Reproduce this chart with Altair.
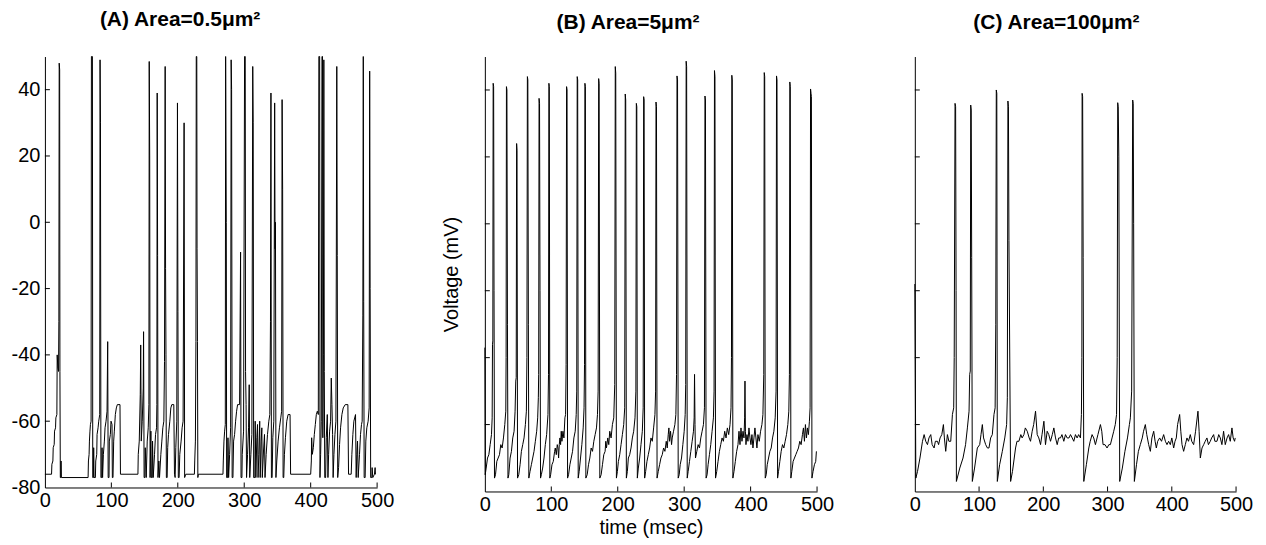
import altair as alt
import pandas as pd

# ---------------- data ----------------
panel_titles = ["(A) Area=0.5\u03bcm\u00b2", "(B) Area=5\u03bcm\u00b2", "(C) Area=100\u03bcm\u00b2"]
x_tick_labels = [0, 100, 200, 300, 400, 500]
y_tick_labels = [-80, -60, -40, -20, 0, 20, 40]
x_inner_ticks = [100, 200, 300, 400, 500]
y_inner_ticks = [-60, -40, -20, 0, 20, 40]

trace_a = [
    (0, -76), (10, -76), (10.5, -73), (12, -72), (12.5, -68), (14, -67), (14.5, -63), (16, -62), (16.5, -59),
    (18, -58), (18.5, -40), (19.5, -44), (20.5, -45), (21, -30), (21.5, 48), (22.2, 46), (22.6, -45), (23.2, -77),
    (24, -77), (24.3, -72), (24.8, -77), (65, -77),
    (65.5, -72), (66.5, -70), (67, -66), (67.8, -63), (68.5, -61), (69.5, -60), (70, 50), (71.5, 50), (72, -77),
    (73, -77), (73.4, -68), (74, -77), (76, -77), (76.5, -72), (78, -70), (78.5, -64), (80, -62), (81, -60),
    (82.5, -58), (83, 49), (83.6, 30), (84.3, -77), (85.5, -77), (86, -68), (86.8, -77), (88, -70), (89.5, -66),
    (90.5, -62), (92, -60), (93.5, -57), (94.5, -36), (95.2, -77), (96.5, -77), (97, -66), (98.5, -64), (99.5, -60),
    (101, -61), (101.5, -77), (102.5, -77), (103.5, -66), (104.5, -63), (106, -58), (107.5, -56), (109, -55),
    (113, -55), (113.7, -76), (140, -76),
    (140.5, -70), (142, -66), (143.5, -52), (144.2, -37), (145, -66), (146.5, -60), (148, -50), (148.5, -33),
    (149.3, -77), (150.5, -77), (151, -68), (152.5, -77), (154, -66), (155.5, -62), (156.5, -55), (157, 48.5),
    (157.7, 20), (158.3, -77), (159.5, -63), (160.2, -77), (161.5, -77), (162, -66), (163, -77), (165, -70),
    (166.5, -64), (168, -62), (168.5, -55), (169, 39), (169.6, -10), (170.2, -77), (171.5, -72), (172.5, -77),
    (174.5, -70), (176, -66), (177.5, -62), (179, -60), (180, -42), (181, 47), (181.6, -14), (182.2, -40),
    (182.8, -77), (184, -77), (184.8, -68), (186, -64), (188, -60), (189.5, -56), (191, -55), (194, -55),
    (195, -76), (196, -77), (197, -68), (198.5, -60), (199.5, 36), (200.2, -27), (200.8, -77), (202, -77),
    (203, -70), (205, -66), (206.5, -62), (208, -60), (209.5, 30), (210.3, -77), (212, -76), (225, -76),
    (225.5, -72), (226.5, -66), (227.3, -36), (227.8, 50), (228.6, 50), (229, -8), (229.6, -36), (230.2, -77),
    (231, -76), (268, -76),
    (268.5, -72), (269.5, -66), (270.5, -63), (271.5, -61), (272, 50), (273, 0), (273.5, -77), (275, -77),
    (275.5, -65), (276.5, -77), (278, -70), (279.5, -62), (280.3, 49), (281, 40), (281.8, -77), (283, -77),
    (284, -66), (285.5, -64), (287, -60), (288.5, -57), (290, -55), (293, -55), (294.5, -9), (295.2, -77),
    (296.5, -77), (297, -70), (299, -63), (300.5, 50), (301.5, 50), (302, -45), (302.8, -55), (303.5, -77),
    (305, -70), (306.5, -62), (307.5, -49), (308.3, -77), (310, -70), (311.5, -64), (312.8, 47), (313.5, 30),
    (314.2, -77), (316, -77), (316.5, -60), (317.5, -77), (319, -65), (320, -61), (320.8, -77), (322, -70),
    (323.3, -60), (324, -77), (325.5, -66), (326.5, -62), (327.2, -77), (329, -69), (330.5, -64), (331.3, -77),
    (333, -70), (335, -64), (337, -60), (338.5, -58), (339.5, -30), (340.2, 39), (340.9, -77), (342, -77),
    (343, -65), (344.5, -60), (345.8, 36), (346.4, -8), (347, 0), (347.7, -77), (349, -72), (351, -66),
    (353, -62), (355, -59), (356.3, -57), (357, 37), (357.8, 10), (358.5, -77), (359.5, -77), (360.5, -70),
    (362, -65), (364, -60), (366, -58), (369, -58), (369.8, -76), (400, -76),
    (401, -72), (401.5, -65), (402.5, -70), (404, -68), (405.5, -64), (407, -61), (408.5, -58), (410, -57),
    (411.5, -58), (412.3, 50), (413.5, 50), (414, -77), (415, -70), (416, -60), (417, 50), (417.8, 50),
    (418.3, -65), (419.2, -40), (419.8, 49), (420.5, -45), (421.2, -77), (422.5, -77), (423.5, -65), (425, -58),
    (426, -77), (427, -70), (428.5, -63), (430, -60), (431, -47), (432, -55), (433, -64), (433.8, -77),
    (435, -70), (436.5, -64), (438, -60), (439.3, 47), (440, -10), (440.7, -77), (442, -74), (443.5, -67),
    (445, -62), (447, -58), (449, -56), (452, -55), (456, -55), (457, -76), (461, -76), (462, -70), (463.5, -64),
    (465, -60), (467.5, -58), (468.5, -77), (469.5, -70), (470.5, -66), (471.5, -77), (473.5, -70), (475, -64),
    (476.5, -61), (477.5, -60), (478.5, -28), (479.2, 50), (479.8, -24), (480.5, -77), (482, -77), (483, -66),
    (484.5, -62), (486.5, -60), (488, -56), (488.8, 45.6), (489.5, -20), (490.3, -77), (492, -77), (492.5, -74),
    (493.5, -77), (496, -76), (497, -74), (497.5, -76), (498, -76),
]

trace_b = [
    (0, -37), (0.5, -75), (2, -73), (4, -70), (6, -69), (8, -66), (10, -63), (11, -58), (11.5, -36), (12, -35),
    (12.5, 42), (13.2, 41), (13.8, -20), (14.5, -76),
    (16, -75), (18, -71), (20, -70), (22, -69), (24, -66), (26, -67), (28, -64), (30, -60), (31.5, -56), (32, -40),
    (32.5, 41), (33.2, 40), (34, -30), (34.8, -76),
    (36, -75), (38, -70), (40, -68), (42, -64), (44, -62), (45.5, -56), (46.5, -47), (47.2, -46), (47.8, 24),
    (48.4, 22), (49.2, -76),
    (51, -75), (53, -72), (55, -68), (57, -66), (59, -64), (61, -60), (62.5, -56), (63.3, -40), (64, 44), (64.7, 43),
    (65.5, -30), (66.2, -76),
    (68, -74), (70, -72), (72, -70), (74, -68), (76, -65), (78, -62), (79.5, -58), (80.5, -52), (81, -45),
    (81.6, 37.5), (82.3, 36), (83, -20), (83.8, -76),
    (85, -75), (87, -73), (89, -70), (91, -66), (93, -63), (95, -57), (95.8, -45), (96.4, 42), (97, 41), (97.8, -76),
    (99, -75), (101, -72), (103, -71), (105, -68), (106, -67), (107.5, -69), (109, -66), (110, -67), (111, -70),
    (112, -66), (113, -64), (114, -66), (115, -62), (116, -65), (117.5, -62), (119, -64), (120.5, -58),
    (121.5, -57), (122.3, -42), (123, 41), (123.7, 40), (124.5, -76),
    (126, -75), (128, -72), (130, -70), (132, -68), (134, -64), (136, -62), (137.5, -57), (138.3, -50), (139, 44),
    (139.7, 43), (140.5, -76),
    (142, -74), (144, -70), (146, -66), (148, -61), (149.3, -55), (150, -42), (150.6, 42), (151.3, 41), (152, -76),
    (154, -75), (156, -72), (158, -70), (160, -67), (162, -68), (164, -65), (166, -63), (168, -61), (169.5, -57),
    (170.5, -50), (171.3, 43.4), (172, 42), (173, -76),
    (175, -75), (177, -72), (179, -69), (181, -68), (182, -65), (183, -67), (185, -64), (186.5, -66), (188, -62),
    (190, -64), (192, -60), (194, -58), (195.5, -48), (196.3, 47), (197, 45), (198, -76),
    (199.5, -74), (201, -71), (203, -69), (205, -66), (207, -63), (209, -60), (210.5, -55), (211.3, 38.8),
    (212, 37), (213, -76),
    (214.5, -74), (216, -70), (218, -69), (220, -67), (222, -64), (224, -62), (226, -58), (227.3, -50), (228, 36),
    (228.7, 35), (229.5, -76),
    (231, -73), (233, -70), (235, -66), (237, -62), (238.3, -55), (239, 38), (239.7, 37), (240.5, -76),
    (242, -74), (244, -71), (246, -69), (248, -67), (250, -64), (252, -65), (254, -61), (256, -57), (257, -50),
    (257.6, 36.4), (258.3, 35), (259.2, -76),
    (261, -74), (263, -72), (265, -70), (267, -69), (269, -67), (271, -68), (273, -65), (274.5, -67), (276, -63),
    (277, -61), (278, -65), (279.5, -62), (281, -66), (282, -64), (284, -62), (286, -60), (287.5, -57),
    (288.5, -45), (289.2, 44.2), (290, 43), (291, -76),
    (292.5, -75), (294, -72), (296, -70), (298, -66), (300, -62), (301.5, -57), (302.3, -48), (303, 48.6),
    (303.7, 47), (304.6, -76),
    (306, -74), (308, -71), (310, -68), (312, -65), (314, -62), (315, -58), (315.6, -45), (316.3, -60), (317, -70),
    (319, -68), (321, -66), (323, -67), (325, -64), (327, -62), (329, -60), (330.5, -55), (331.3, 38.2), (332, 37),
    (333, -76),
    (334.5, -75), (336, -72), (338, -69), (340, -66), (342, -62), (344, -58), (345, -50), (345.6, 45.8),
    (346.3, 44), (347.2, -76),
    (349, -74), (351, -71), (353, -68), (355, -66), (357, -64), (359, -65), (361, -62), (363, -64), (365, -61),
    (367, -63), (369, -60), (370.5, -55), (371.2, -40), (371.7, 44.4), (372.4, 43), (373.3, -76),
    (375, -74), (377, -71), (379, -68), (381, -66), (382.5, -62), (384, -66), (385.5, -61), (387, -65),
    (388.5, -62), (390, -64), (391, -58), (391.5, -47), (392.2, -62), (393, -66), (394.5, -63), (396, -65),
    (397.5, -61), (399, -64), (400.5, -66), (402, -63), (403.5, -67), (405, -64), (406.5, -61), (408, -64),
    (409.5, -67), (411, -63), (413, -65), (415, -62), (417, -60), (418.5, -57), (419.8, -45), (420.5, 45.2),
    (421.2, 44), (422, -76),
    (423.5, -75), (425, -72), (427, -70), (429, -68), (431, -67), (433, -64), (435, -62), (437, -58), (438.3, -50),
    (439, 44.2), (439.7, 43), (440.6, -76),
    (442, -74), (444, -71), (446, -68), (448, -66), (450, -67), (452, -65), (454, -63), (456, -60), (457.5, -56),
    (458.4, -45), (459, 42.4), (459.7, 41), (460.6, -76),
    (462, -74), (464, -71), (466, -70), (468, -69), (470, -68), (472, -67), (474, -65), (476, -66), (478, -63),
    (479.5, -61), (481, -65), (482.5, -60), (484, -64), (485.5, -61), (487, -63), (488.5, -59), (489.5, -55),
    (490.2, 40.3), (490.9, 39), (491.5, 38), (492.3, -76), (494, -74), (496, -72), (498, -71), (499, -68),
]

trace_c = [
    (0, -18), (1.6, -76), (4.2, -74), (8, -70), (11.9, -65), (14.5, -63), (17, -65), (19.7, -66), (22, -64),
    (24.8, -63), (27, -66), (30, -67), (32, -65), (35.2, -65), (37, -66), (39.3, -64), (42, -63), (44.5, -60),
    (46, -64), (48.1, -68), (50.7, -63), (53, -65), (55.9, -65), (58.5, -57), (60.5, -55), (61.3, -40),
    (62.6, 36), (63.5, 35), (64.2, -20), (64.7, -77),
    (70, -73), (75, -70), (79, -66), (81.8, -61), (84.4, -56), (85.4, -45), (86.3, -44), (87, 35.5), (87.8, 34),
    (88.5, -10), (89.5, -77),
    (93, -73), (97.3, -67), (101, -66), (103, -63), (105.1, -60), (107, -64), (110.3, -66), (113, -67),
    (115.4, -67), (118, -64), (120.6, -63), (123.2, -57), (125, -55), (126, -30), (126.8, 40), (127.6, 39),
    (128.4, -77),
    (132, -72), (136.2, -68), (140, -64), (142.9, -60), (144, -52), (144.9, 36.7), (145.7, 35), (146.5, -5),
    (149.1, -77),
    (152, -74), (156.8, -67), (159, -65), (162, -65), (165, -63), (167, -64), (169.8, -63), (172, -61), (175, -62),
    (178, -64), (180.1, -65), (182.7, -62), (185, -60), (187.9, -56), (190.5, -63), (193, -64), (195.7, -66),
    (198, -63), (200.9, -59), (203.4, -66), (206, -62), (208.5, -63), (211.2, -65), (214, -63), (216.4, -61),
    (219, -64), (221.6, -66), (224, -64), (226.7, -64), (229, -63), (231.9, -65), (234.5, -63), (237.1, -64),
    (240, -64), (242.3, -63), (245, -64), (247.4, -65), (250, -63), (252.6, -64), (255, -63), (257.8, -64),
    (259.3, -57), (260, -40), (260.4, 39), (261.2, 38), (262, -10), (263, -77),
    (267, -72), (270.8, -67), (273, -65), (275.9, -63), (278.5, -64), (281.1, -66), (285, -63), (288.9, -60),
    (291, -62), (293, -66), (296, -66), (299.2, -67), (302, -66), (304.4, -66), (307, -64), (309.6, -62),
    (312, -60), (314, -57), (315, -40), (315.8, 36.2), (316.6, 35), (317.5, 20), (318.9, -77),
    (323, -73), (327, -68), (331, -64), (334, -60), (335.5, -58), (337.5, -50), (339.1, 37), (339.9, 36),
    (340.6, 0), (341.7, -77),
    (345, -72), (348, -68), (351, -66), (354, -64), (356, -62), (358.8, -60), (361, -63), (364, -66), (366.6, -68),
    (369, -64), (371.8, -62), (374, -65), (375.9, -67), (378, -65), (381.1, -64), (384, -65), (387.3, -63),
    (390, -65), (392.5, -66), (395, -65), (397.7, -66), (400, -64), (402.9, -67), (405, -65), (407, -64),
    (409, -60), (412.2, -57), (414, -62), (415.9, -66), (418.4, -68), (421, -66), (423.6, -64), (426, -65),
    (428.8, -63), (431, -65), (434, -66), (437, -62), (440.7, -56), (442.5, -62), (444.4, -70), (447, -67),
    (449.6, -66), (452, -65), (454.7, -64), (457, -66), (459.9, -65), (462, -64), (465.1, -63), (467, -65),
    (470.3, -65), (473, -63), (475.5, -64), (478, -66), (480.6, -62), (483.2, -66), (486, -64), (488.4, -63),
    (491, -65), (493.6, -61), (495.5, -64), (497.7, -65), (498.7, -64),
]

FONT = "Liberation Sans"


def make_panel(trace, title_text, w, h, title_dx, title_offset, show_labels, y_title, x_title):
    df = pd.DataFrame({
        "t": [p[0] for p in trace],
        "v": [p[1] for p in trace],
        "i": list(range(len(trace))),
    })
    x_enc = alt.X(
        "t:Q",
        scale=alt.Scale(domain=[0, 500], nice=False, zero=False),
        axis=alt.Axis(values=x_tick_labels, labelExpr="'' + datum.value", labelPadding=3,
                      title=x_title, titlePadding=3, labelFlush=False),
    )
    y_enc = alt.Y(
        "v:Q",
        scale=alt.Scale(domain=[-80, 50], nice=False, zero=False),
        axis=alt.Axis(values=y_tick_labels, labels=show_labels, labelExpr="'' + datum.value",
                      labelPadding=5, title=y_title, titlePadding=23, labelFlush=False),
    )
    line = alt.Chart(df).mark_line(color="black", strokeWidth=1, strokeJoin="bevel").encode(
        x=x_enc, y=y_enc, order="i:Q"
    )
    xt = alt.Chart(pd.DataFrame({"t": x_inner_ticks})).mark_rule(color="black", strokeWidth=1).encode(
        x=x_enc, y=alt.value(h), y2=alt.value(h - 5)
    )
    yt = alt.Chart(pd.DataFrame({"v": y_inner_ticks})).mark_rule(color="black", strokeWidth=1).encode(
        y=y_enc, x=alt.value(0), x2=alt.value(5)
    )
    return alt.layer(line, xt, yt).properties(
        width=w, height=h,
        title=alt.TitleParams(text=title_text, anchor="middle", frame="group", dx=title_dx,
                              offset=title_offset, baseline="middle"),
    )


pa = make_panel(trace_a, panel_titles[0], 333, 432, -31, 15, True, None, None)
pb = make_panel(trace_b, panel_titles[1], 333, 436, -23, 13, False, "Voltage (mV)", "time (msec)")
pc = make_panel(trace_c, panel_titles[2], 322, 436, -19, 13, False, None, None)

inner = alt.hconcat(pb, pc, spacing=98, bounds="flush")
chart = alt.hconcat(pa, inner, spacing=108, bounds="flush").properties(
    padding={"left": 3, "top": 0, "right": 5, "bottom": 5}
).configure_view(stroke=None).configure_axis(
    domainColor="black", domainWidth=1, ticks=False, tickSize=0, grid=False,
    labelFont=FONT, labelFontSize=20, labelColor="black",
    titleFont=FONT, titleFontSize=20, titleFontWeight="normal", titleColor="black",
).configure_title(font=FONT, fontSize=21, fontWeight="bold", color="black")

chart.save("out.html", embed_options={"renderer": "svg", "actions": False})
